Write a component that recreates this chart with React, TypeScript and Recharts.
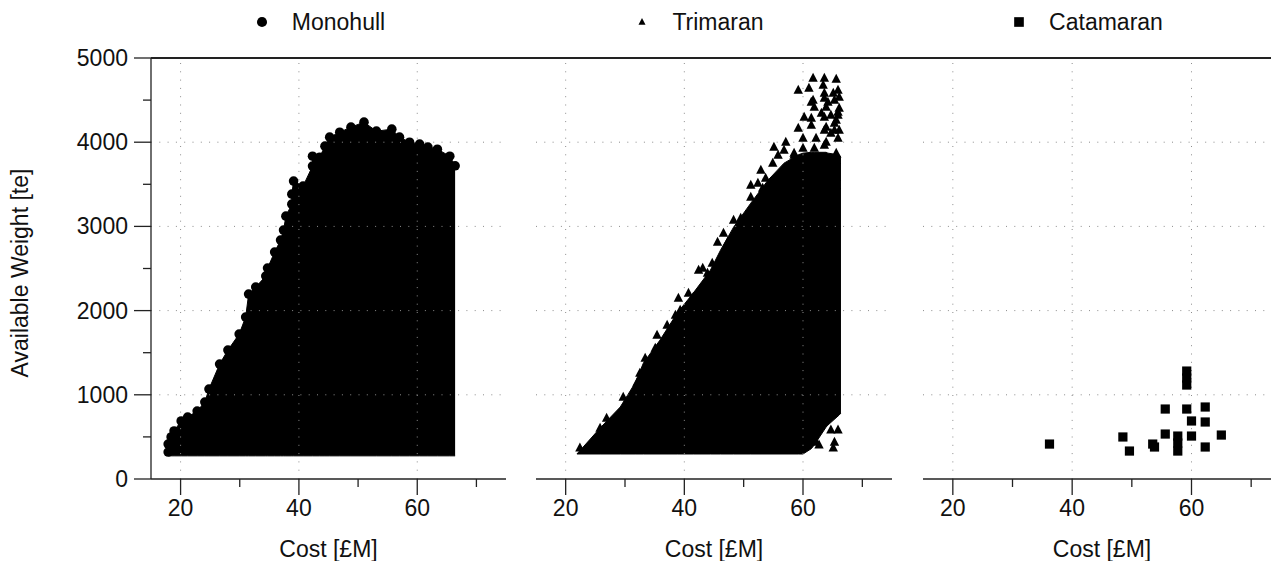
import React from "react";
import { ComposedChart, Area, Scatter, XAxis, YAxis, ReferenceLine, Label } from "recharts";

const FONT = '"Liberation Sans", Arial, Helvetica, sans-serif';
const AXIS = "#222";
const GRID = "#8c8c8c";
const INK = "#000";

// axes
const costTicks = [20, 30, 40, 50, 60, 70];
const costLabels = [20, 40, 60];
const weightTicks = [0, 500, 1000, 1500, 2000, 2500, 3000, 3500, 4000, 4500, 5000];
const weightLabels = [0, 1000, 2000, 3000, 4000, 5000];
const costGrid = [20, 40, 60];
const weightGrid = [1000, 2000, 3000, 4000];

// Monohull: dense cloud, upper edge of the cloud (marker centres) + floor
const monohullCost = [17.9, 17.9, 18.4, 18.9, 20.1, 21.2, 22.8, 24.1, 24.8, 26.6, 28.0, 29.9, 31.0, 31.5, 32.7, 34.4, 34.7, 35.9, 36.9, 37.4, 37.8, 38.8, 38.8, 39.1, 40.7, 42.3, 42.3, 43.5, 44.4, 45.2, 46.9, 48.8, 51.0, 53.1, 55.7, 57.0, 58.7, 60.4, 61.8, 63.4, 65.5, 66.4];
const monohullTop = [320, 415, 499, 570, 689, 736, 807, 914, 1068, 1365, 1531, 1721, 1923, 2196, 2279, 2410, 2505, 2695, 2837, 2956, 3122, 3264, 3383, 3538, 3478, 3716, 3834, 3822, 3953, 4060, 4119, 4179, 4238, 4131, 4155, 4060, 4000, 3977, 3941, 3917, 3834, 3720];
const monohullFloor = 275;

// Trimaran: solid body of the cloud
const trimaranBandCost = [21.9, 25.8, 29.2, 31.7, 33.1, 35.9, 38.8, 41.5, 44.4, 46.1, 48.3, 51.2, 54.1, 56.8, 59.2, 60.0, 61.4, 61.9, 63.9, 64.2, 66.1, 66.4];
const trimaranBandLow = [297, 297, 297, 297, 297, 297, 297, 297, 297, 297, 297, 297, 297, 297, 297, 297, 360, 404, 617, 640, 760, 783];
const trimaranBandHigh = [297, 605, 855, 1140, 1377, 1650, 1971, 2208, 2481, 2718, 2991, 3276, 3549, 3751, 3850, 3870, 3880, 3880, 3880, 3870, 3850, 3820];

// Trimaran: outlying points along the edge of the cloud
const trimaranCost = [61.7, 63.6, 65.6, 59.2, 61.0, 65.9, 61.4, 63.6, 65.3, 60.2, 61.9, 63.9, 65.9, 59.2, 61.4, 63.6, 65.6, 63.9, 65.3, 60.0, 62.2, 65.9, 63.6, 55.1, 57.1, 55.8, 58.5, 65.6, 54.9, 52.9, 53.7, 51.2, 52.4, 51.2, 53.2, 48.3, 49.5, 46.6, 47.3, 45.6, 44.7, 43.1, 42.4, 43.9, 40.7, 39.0, 41.5, 39.3, 38.5, 37.1, 35.4, 35.1, 33.4, 32.5, 32.0, 29.7, 26.9, 25.8, 22.4, 64.7, 65.9, 65.3, 65.1, 62.7, 62.2, 63.4, 63.6, 65.1, 66.1, 61.7, 64.2, 66.1, 63.1, 64.7, 65.9, 65.3, 61.4, 66.1, 63.6, 64.7, 63.9, 56.8, 58.5, 60.0, 61.9];
const trimaranWeight = [4760, 4760, 4748, 4618, 4641, 4618, 4475, 4523, 4499, 4297, 4416, 4416, 4357, 4167, 4285, 4297, 4262, 4179, 4143, 4048, 4048, 4048, 3965, 3941, 4000, 3846, 3846, 3870, 3751, 3668, 3573, 3490, 3514, 3348, 3454, 3075, 3098, 2920, 2813, 2813, 2564, 2505, 2481, 2445, 2208, 2149, 2161, 2006, 1947, 1828, 1709, 1555, 1436, 1258, 1140, 973, 724, 605, 368, 582, 582, 439, 368, 404, 439, 4677, 4582, 4582, 4535, 4499, 4475, 4404, 4345, 4321, 4321, 4226, 4202, 4143, 4143, 4107, 4000, 3906, 3870, 3929, 3929];

// Catamaran
const catamaranCost = [36.2, 48.5, 49.6, 53.5, 53.8, 55.6, 55.6, 57.7, 57.7, 57.7, 59.2, 59.2, 59.2, 59.2, 60.0, 60.0, 62.3, 62.3, 62.3, 65.0];
const catamaranWeight = [415, 499, 332, 415, 380, 831, 534, 510, 427, 332, 1282, 1199, 1116, 831, 689, 510, 855, 677, 380, 522];

type Kind = "circle" | "triangle" | "square";

const toPoints = (xs: number[], ys: number[]) => xs.map((cost, i) => ({ cost, weight: ys[i] }));

const panels = [
  {
    name: "Monohull",
    kind: "circle" as Kind,
    plotLeft: 151,
    plotRight: 506,
    legendTrim: 16,
    band: monohullCost.map((cost, i) => ({ cost, band: [monohullFloor, monohullTop[i]] })),
    points: toPoints(monohullCost, monohullTop),
  },
  {
    name: "Trimaran",
    kind: "triangle" as Kind,
    plotLeft: 536,
    plotRight: 892,
    legendTrim: 28,
    band: trimaranBandCost.map((cost, i) => ({ cost, band: [trimaranBandLow[i], trimaranBandHigh[i]] })),
    points: toPoints(trimaranCost, trimaranWeight),
  },
  {
    name: "Catamaran",
    kind: "square" as Kind,
    plotLeft: 923,
    plotRight: 1281,
    legendTrim: 28,
    band: [] as { cost: number; band: number[] }[],
    points: toPoints(catamaranCost, catamaranWeight),
  },
];

function Marker({ kind, cx, cy, s = 1 }: { kind: Kind; cx: number; cy: number; s?: number }) {
  if (kind === "circle") return <circle cx={cx} cy={cy} r={4.8 * s} fill={INK} />;
  if (kind === "triangle") {
    const w = 4.7 * s;
    return <polygon points={`${cx},${cy - 5.4 * s} ${cx + w},${cy + 3.6 * s} ${cx - w},${cy + 3.6 * s}`} fill={INK} />;
  }
  const h = 4.6 * s;
  return <rect x={cx - h} y={cy - h} width={2 * h} height={2 * h} fill={INK} />;
}

const textStyle = { fontFamily: FONT, fontSize: 23, fill: "#111" };

function CostTick(props: any) {
  const { x, y, payload } = props;
  const major = costLabels.includes(payload.value);
  return (
    <g>
      <line x1={x} y1={y} x2={x} y2={y + (major ? 16 : 8)} stroke={AXIS} strokeWidth={1.3} />
      {major && (
        <text x={x} y={y + 29} textAnchor="middle" dominantBaseline="central" style={textStyle}>
          {payload.value}
        </text>
      )}
    </g>
  );
}

function WeightTick(props: any) {
  const { x, y, payload } = props;
  const major = weightLabels.includes(payload.value);
  return (
    <g>
      <line x1={x - (major ? 17 : 8)} y1={y} x2={x} y2={y} stroke={AXIS} strokeWidth={1.3} />
      {major && (
        <text x={x - 23} y={y} textAnchor="end" dominantBaseline="central" style={textStyle}>
          {payload.value}
        </text>
      )}
    </g>
  );
}

function Panel({ p, index }: { p: (typeof panels)[number]; index: number }) {
  const first = index === 0;
  const padL = first ? 0 : 10;
  const left = first ? 0 : p.plotLeft - padL;
  const width = p.plotRight - left + 10;
  return (
    <div style={{ position: "absolute", left, top: 0 }}>
      <ComposedChart
        width={width}
        height={561}
        data={p.band}
        margin={{ top: 58, right: 10, bottom: 0, left: padL }}
      >
        <XAxis
          type="number"
          dataKey="cost"
          domain={[15, 75]}
          allowDataOverflow
          ticks={costTicks}
          interval={0}
          tickSize={0}
          tickMargin={0}
          tickLine={false}
          tick={<CostTick />}
          height={82}
          axisLine={{ stroke: AXIS, strokeWidth: 1.3 }}
          label={
            <Label
              content={(lp: any) => {
                const vb = lp.viewBox || {};
                return (
                  <text x={vb.x + vb.width / 2} y={549} textAnchor="middle" dominantBaseline="central" style={textStyle}>
                    Cost [£M]
                  </text>
                );
              }}
            />
          }
        />
        <YAxis
          type="number"
          dataKey="weight"
          domain={[0, 5000]}
          allowDataOverflow
          ticks={weightTicks}
          interval={0}
          hide={!first}
          width={151}
          tickSize={0}
          tickMargin={0}
          tickLine={false}
          tick={<WeightTick />}
          axisLine={{ stroke: AXIS, strokeWidth: 1.3 }}
          label={
            first ? (
              <Label
                content={() => (
                  <text
                    x={20}
                    y={273}
                    transform="rotate(-90 20 273)"
                    textAnchor="middle"
                    dominantBaseline="central"
                    style={textStyle}
                  >
                    Available Weight [te]
                  </text>
                )}
              />
            ) : undefined
          }
        />
        {costGrid.map((v) => (
          <ReferenceLine key={"x" + v} x={v} stroke={GRID} strokeWidth={1} strokeDasharray="1 7.3" />
        ))}
        {weightGrid.map((v) => (
          <ReferenceLine key={"y" + v} y={v} stroke={GRID} strokeWidth={1} strokeDasharray="1 7.3" />
        ))}
        {p.band.length > 0 && (
          <Area
            type="linear"
            dataKey="band"
            stroke={INK}
            strokeWidth={1}
            fill={INK}
            fillOpacity={1}
            dot={false}
            activeDot={false}
            isAnimationActive={false}
          />
        )}
        <Scatter
          data={p.points}
          isAnimationActive={false}
          shape={(sp: any) => <Marker kind={p.kind} cx={sp.cx} cy={sp.cy} />}
        />
      </ComposedChart>
    </div>
  );
}

export default function App() {
  return (
    <div
      style={{
        position: "absolute",
        left: 0,
        top: 0,
        width: 1271,
        height: 561,
        overflow: "hidden",
        background: "#fff",
        fontFamily: FONT,
      }}
    >
      {panels.map((p, i) => (
        <Panel key={p.name} p={p} index={i} />
      ))}
      {/* frame line along the top of all three panels */}
      <div style={{ position: "absolute", left: 151, top: 57.4, width: 1120, height: 1.4, background: AXIS }} />
      {panels.map((p) => (
        <div
          key={"lg" + p.name}
          style={{
            position: "absolute",
            top: 1,
            left: p.plotLeft,
            width: p.plotRight - p.plotLeft - p.legendTrim,
            height: 42,
            display: "flex",
            justifyContent: "center",
            alignItems: "center",
          }}
        >
          <svg width={12} height={12} style={{ overflow: "visible" }}>
            <Marker kind={p.kind} cx={6} cy={6} s={p.kind === "triangle" ? 0.75 : 1.05} />
          </svg>
          <span style={{ marginLeft: 24, fontSize: 23, color: "#111", lineHeight: "42px" }}>{p.name}</span>
        </div>
      ))}
    </div>
  );
}
